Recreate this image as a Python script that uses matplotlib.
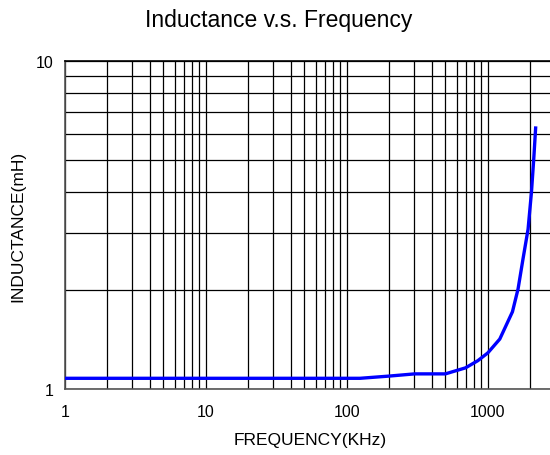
import matplotlib
matplotlib.use("Agg")
import matplotlib.pyplot as plt
from matplotlib.ticker import FixedLocator, NullFormatter, LogLocator

plt.rcParams['font.family'] = ['Liberation Sans', 'DejaVu Sans']

freq_khz = [1, 10, 50, 124, 200, 303, 500, 695, 850, 1000, 1217, 1497, 1641, 1778, 1932, 2042, 2120, 2190]
inductance_mh = [1.078, 1.078, 1.078, 1.078, 1.095, 1.112, 1.112, 1.16, 1.22, 1.288, 1.42, 1.72, 2.02, 2.49, 3.07, 3.98, 5.03, 6.32]

x_ticks = [1, 10, 100, 1000]
x_labels = ["1", "10", "100", "1000"]
y_ticks = [1, 10]
y_labels = ["1", "10"]

W, H = 550, 456
fig = plt.figure(figsize=(W / 100, H / 100), dpi=100)
left, right, top, bottom = 65, 555, 62, 390
ax = fig.add_axes([left / W, (H - bottom) / H, (right - left) / W, (bottom - top) / H])

ax.set_xscale('log')
ax.set_yscale('log')
ax.set_xlim(1, 3000)
ax.set_ylim(1, 10)

ax.plot(freq_khz, inductance_mh, color='#0000ff', lw=2.4, zorder=3, solid_capstyle='butt')

ax.xaxis.set_major_locator(FixedLocator(x_ticks))
ax.xaxis.set_minor_locator(LogLocator(base=10, subs=range(2, 10), numticks=20))
ax.yaxis.set_major_locator(FixedLocator(y_ticks))
ax.yaxis.set_minor_locator(LogLocator(base=10, subs=range(2, 10), numticks=20))
ax.set_xticklabels(x_labels)
ax.set_yticklabels(y_labels)
ax.xaxis.set_minor_formatter(NullFormatter())
ax.yaxis.set_minor_formatter(NullFormatter())

ax.grid(True, which='both', color='black', lw=0.9, zorder=1)
ax.set_axisbelow(True)
ax.tick_params(which='both', length=0, labelsize=11.5, pad=11)
ax.tick_params(axis='y', pad=8)
for s in ax.spines.values():
    s.set_color('#555555')
    s.set_linewidth(1.2)
ax.spines['top'].set_color('black')

ax.set_xlabel('FREQUENCY(KHz)', fontsize=12.5, labelpad=9)
ax.set_ylabel('INDUCTANCE(mH)', fontsize=12.5, labelpad=8)
fig.text(279 / W, 1 - 20 / H, 'Inductance v.s. Frequency', ha='center', va='center', fontsize=16.5)

fig.savefig('out.png', dpi=100)
